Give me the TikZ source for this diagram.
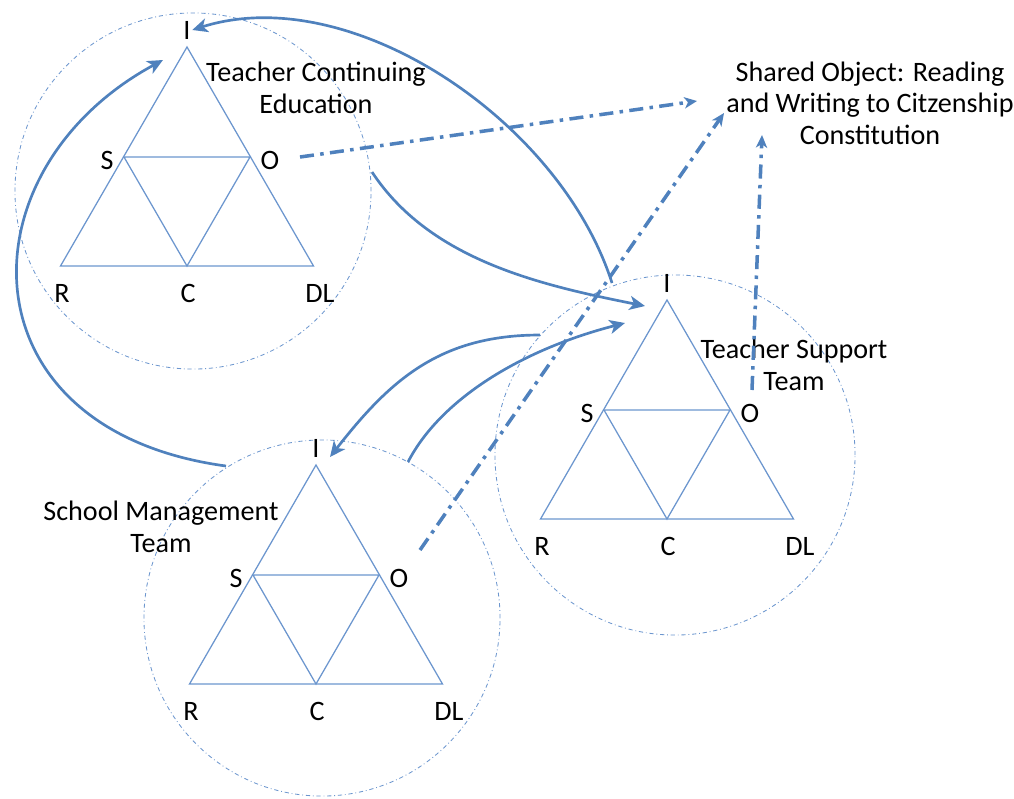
\documentclass[tikz,border=0pt]{standalone}
\usepackage{fontspec}
\setmainfont{Carlito}
\usetikzlibrary{arrows.meta}
\definecolor{linkblue}{HTML}{4F81BD}
\definecolor{triblue}{HTML}{6C96CE}

\begin{document}
\begin{tikzpicture}[x=0.025cm, y=-0.025cm,
  every node/.style={font=\fontsize{20}{22.5}\selectfont, inner sep=1pt, text=black},
  ring/.style={draw=triblue, line width=0.6pt, dash pattern=on 3pt off 2pt on 0.6pt off 2pt},
  side/.style={draw=triblue, line width=0.9pt},
  flow/.style={draw=linkblue, line width=1.9pt, -{Stealth[length=11pt, width=10pt, inset=3pt]}},
  share/.style={draw=linkblue, line width=2.5pt, dash pattern=on 10pt off 4.5pt on 2.5pt off 4.5pt, -{Stealth[length=9pt, width=8pt, inset=2.5pt]}},
  title/.style={align=center}]
  \useasboundingbox (0,0) rectangle (1014,798);

  % three activity triangles
  \foreach \t/\ax/\ay/\cx/\cy/\r in {tce/187/47/193/191/4.45cm, tst/667/300/675/455/4.5cm, smt/316/465/322/618/4.45cm} {
    \coordinate (\t-apex) at (\ax,\ay);
    \coordinate (\t-bl) at (\ax-126.5,\ay+219);
    \coordinate (\t-br) at (\ax+126.5,\ay+219);
    \coordinate (\t-bm) at (\ax,\ay+219);
    \coordinate (\t-ml) at (\ax-63,\ay+110);
    \coordinate (\t-mr) at (\ax+63,\ay+110);
    \draw[ring] (\cx,\cy) circle[radius=\r];
    \draw[side] (\t-bl) -- (\t-br) -- (\t-apex) -- cycle;
    \draw[side] (\t-ml) -- (\t-mr) -- (\t-bm) -- cycle;
    \node (\t-I) at (\ax,\ay-17) {I};
    \node (\t-S) at (\ax-80,\ay+113) {S};
    \node (\t-O) at (\ax+83,\ay+113) {O};
    \node (\t-R) at (\ax-125,\ay+246) {R};
    \node (\t-C) at (\ax+1,\ay+246) {C};
    \node (\t-DL) at (\ax+133,\ay+246) {DL};
  }

  \node[title] (tce-name) at (316,88) {Teacher Continuing\\Education};
  \node[title] (tst-name) at (794,365) {Teacher Support\\Team};
  \node[title] (smt-name) at (161,527) {School Management\\Team};
  \node[title] (shared) at (870,103) {Shared Object: Reading\\and Writing to Citzenship\\Constitution};

  % free ends of the connectors
  \coordinate (tst-up) at (612,283);
  \coordinate (tce-out) at (372,172);
  \coordinate (tst-in1) at (645,306);
  \coordinate (smt-up) at (226,466);
  \coordinate (tce-in) at (163,60);
  \coordinate (tst-back) at (540,335);
  \coordinate (smt-in) at (330,457);
  \coordinate (smt-out) at (408,462);
  \coordinate (tst-in2) at (625,323);
  \coordinate (tce-obj) at (300,157);
  \coordinate (smt-obj) at (420,550);
  \coordinate (tst-obj) at (752,390);
  \coordinate (shared-in1) at (697,101);
  \coordinate (shared-in2) at (724,113);
  \coordinate (shared-in3) at (762,135);

  \draw[flow] (tst-up) .. controls (560,120) and (350,-20) .. (tce-I.east);
  \draw[flow] (tce-out) .. controls (430,260) and (540,285) .. (tst-in1);
  \draw[flow] (smt-up) .. controls (-40,430) and (-40,170) .. (tce-in);
  \draw[flow] (tst-back) .. controls (440,335) and (390,380) .. (smt-in);
  \draw[flow] (smt-out) .. controls (440,400) and (520,350) .. (tst-in2);

  \draw[share] (tce-obj) -- (shared-in1);
  \draw[share] (smt-obj) -- (shared-in2);
  \draw[share] (tst-obj) -- (shared-in3);
\end{tikzpicture}
\end{document}
